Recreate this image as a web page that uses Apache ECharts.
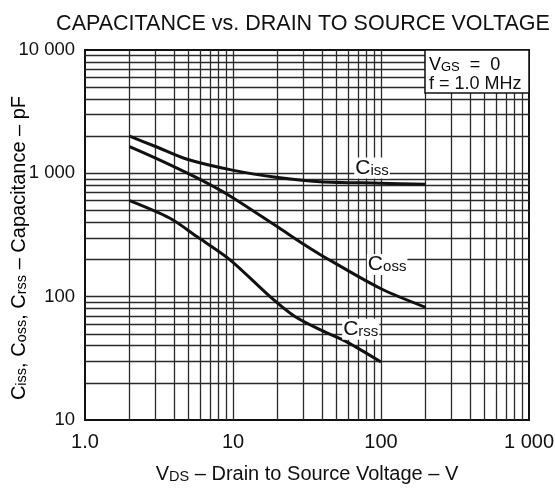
<!DOCTYPE html>
<html>
<head>
<meta charset="utf-8">
<script src="https://cdn.jsdelivr.net/npm/echarts@6/dist/echarts.min.js"></script>
<style>html,body{margin:0;padding:0;background:#fff;}#c{width:555px;height:491px;}</style>
</head>
<body>
<div id="c"></div>
<script>
// Data (log-log)
const vdsCiss = [2, 3, 4.9, 9.7, 19.5, 38.7, 98.5, 200];
const ciss    = [2000, 1650, 1300, 1067, 929, 855, 832, 815];
const vdsCoss = [2, 3, 5.5, 9.3, 19.5, 30.6, 38.7, 98.5, 200];
const coss    = [1650, 1330, 940, 668, 375, 262, 220, 117, 82];
const vdsCrss = [2, 3.75, 5.7, 9.55, 17.8, 26.2, 40, 58.6, 100];
const crss    = [600, 432, 307, 199, 100, 69, 53, 43, 29.5];

const xTicks = [1, 10, 100, 1000];
const xTickLabels = ['1.0', '10', '100', '1 000'];
const yTicks = [10, 100, 1000, 10000];
const yTickLabels = ['10', '100', '1 000', '10 000'];

// Grid line values (every 1..9 per decade)
const xGrid = [2,3,4,5,6,7,8,9,10,20,30,40,50,60,70,80,90,100,200,300,400,500,600,700,800,900];
const yGrid = [20,30,40,50,60,70,80,90,100,200,300,400,500,600,700,800,900,1000,2000,3000,4000,5000,6000,7000,8000,9000];

// Curve label anchors (data coords)
const curveLabels = [
  {name: 'Ciss', at: [87, 1104]},
  {name: 'Coss', at: [110, 182]},
  {name: 'Crss', at: [73, 54.5]}
];

const zip = (xs, ys) => xs.map((x, i) => [x, ys[i]]);
const font = '"Liberation Sans", Arial, Helvetica, sans-serif';
const lblMap = (ticks, labels) => v => { const i = ticks.findIndex(t => Math.abs(t - v) / t < 1e-6); return i >= 0 ? labels[i] : ''; };

const gridStyle = {color: '#2a2a2a', width: 1.3, type: 'solid'};
const gridLines = [
  ...xGrid.map(v => ({xAxis: v})),
  ...yGrid.map(v => ({yAxis: v}))
];

const richName = {
  big: {fontSize: 20, fontFamily: font, color: '#111'},
  sub: {fontSize: 14.5, fontFamily: font, color: '#111', padding: [5, 0, 0, 0]}
};
const richBox = {
  big: {fontSize: 18, fontFamily: font, color: '#111'},
  sub: {fontSize: 13, fontFamily: font, color: '#111', padding: [5, 0, 0, 0]}
};

const chart = echarts.init(document.getElementById('c'), null, {renderer: 'canvas'});
const curve = (name, data) => ({
  name, type: 'line', data, smooth: 0.3, showSymbol: false, symbol: 'none',
  lineStyle: {color: '#111', width: 3}, z: 5, silent: true
});

const labelSeries = {
  type: 'scatter', symbolSize: 0, z: 6, silent: true, itemStyle: {color: '#111', opacity: 1},
  data: curveLabels.map(c => ({value: c.at, name: c.name})),
  label: {
    show: true, position: 'inside', backgroundColor: '#fff', padding: [0, 1, 0, 1],
    color: '#111', textBorderWidth: 0, opacity: 1,
    formatter: p => '{big|C}{sub|' + p.name.slice(1) + '}',
    rich: {
      big: {fontSize: 21, fontFamily: font, color: '#111', textBorderWidth: 0},
      sub: {fontSize: 15, fontFamily: font, color: '#111', textBorderWidth: 0, padding: [5, 0, 0, 0]}
    }
  }
};

chart.setOption({
  animation: false,
  backgroundColor: '#fff',
  title: {
    text: 'CAPACITANCE vs. DRAIN TO SOURCE VOLTAGE',
    left: 298, top: 8, textAlign: 'center',
    textStyle: {fontFamily: font, fontSize: 21.5, fontWeight: 'normal', color: '#111'}
  },
  grid: {left: 85, right: 26, top: 50, bottom: 71, containLabel: false, outerBoundsMode: 'none',
         show: true, borderColor: '#111', borderWidth: 2, backgroundColor: 'transparent'},
  xAxis: {
    type: 'log', logBase: 10, min: 1, max: 1000,
    axisLine: {show: true, lineStyle: {color: '#111', width: 2}},
    axisTick: {show: false}, splitLine: {show: false},
    axisLabel: {formatter: lblMap(xTicks, xTickLabels), fontFamily: font, fontSize: 20, color: '#111', margin: 12},
    name: '{big|V}{sub|DS}{big| – Drain to Source Voltage – V}',
    nameLocation: 'middle', nameGap: 44,
    nameTextStyle: {rich: richName}
  },
  yAxis: {
    type: 'log', logBase: 10, min: 10, max: 10000,
    axisLine: {show: true, lineStyle: {color: '#111', width: 2}},
    axisTick: {show: false}, splitLine: {show: false},
    axisLabel: {formatter: lblMap(yTicks, yTickLabels), fontFamily: font, fontSize: 18.5, color: '#111', margin: 10}
  },
  series: [
    {
      type: 'line', data: [], silent: true, z: 1,
      markLine: {silent: true, symbol: ['none', 'none'], label: {show: false}, lineStyle: gridStyle, animation: false, data: gridLines}
    },
    curve('Ciss', zip(vdsCiss, ciss)),
    curve('Coss', zip(vdsCoss, coss)),
    curve('Crss', zip(vdsCrss, crss)),
    labelSeries
  ],
  graphic: [
    {type: 'text', x: 19, y: 248, rotation: Math.PI / 2, z: 11,
     style: {text: '{big|C}{sub|iss}{big|, C}{sub|oss}{big|, C}{sub|rss}{big| – Capacitance – pF}', rich: richName, align: 'center', verticalAlign: 'middle'}},
    {type: 'rect', shape: {x: 425, y: 50, width: 104, height: 43}, style: {fill: '#fff', stroke: '#111', lineWidth: 1.5}, z: 10},
    {type: 'text', left: 429, top: 56, z: 11, style: {text: '{big|V}{sub|GS}{big|  =  0}', rich: richBox}},
    {type: 'text', left: 429, top: 75, z: 11, style: {text: 'f = 1.0 MHz', fontSize: 18, fontFamily: font, fill: '#111'}}
  ]
});
</script>
</body>
</html>
